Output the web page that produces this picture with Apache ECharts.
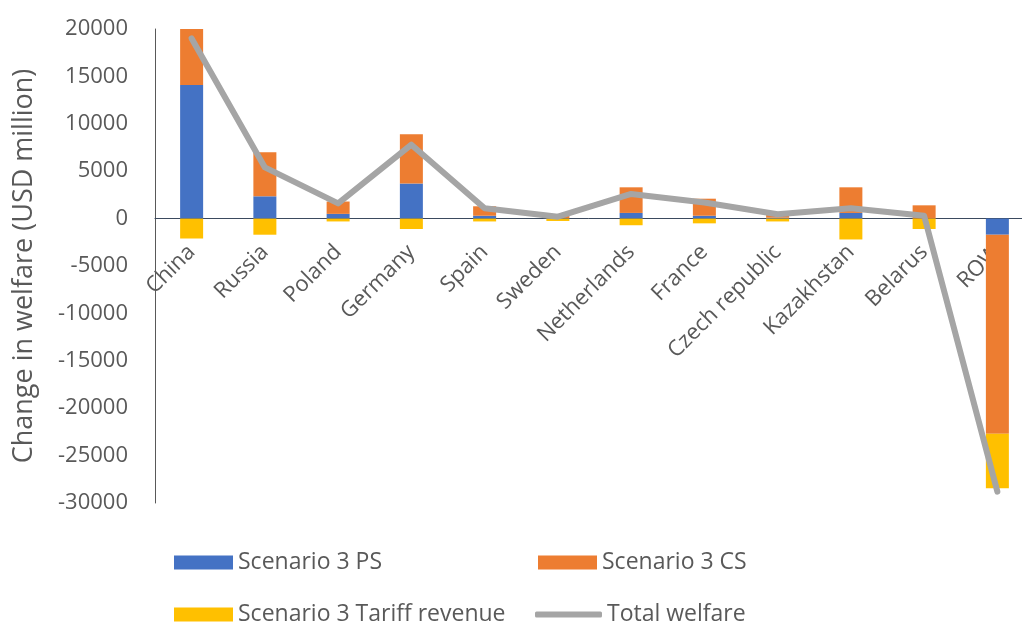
<!DOCTYPE html>
<html>
<head>
<meta charset="utf-8">
<script src="https://cdn.jsdelivr.net/npm/echarts@6/dist/echarts.min.js"></script>
<style>
  html, body { margin: 0; padding: 0; background: #fff; }
  #chart { width: 1022px; height: 624px; }
</style>
</head>
<body>
<div id="chart"></div>
<script>
// Welfare change by country, USD million
const countries = ['China', 'Russia', 'Poland', 'Germany', 'Spain', 'Sweden', 'Netherlands',
  'France', 'Czech republic', 'Kazakhstan', 'Belarus', 'ROW'];
const producerSurplus = [14100, 2350, 500, 3700, 300, 50, 600, 300, 100, 600, 0, -1700];
const consumerSurplus = [6000, 4650, 1300, 5200, 1000, 300, 2700, 1800, 300, 2700, 1400, -21000];
const tariffRevenue = [-2100, -1700, -300, -1100, -300, -250, -700, -500, -300, -2200, -1100, -5750];
const totalWelfare = [19000, 5400, 1600, 7800, 1100, 200, 2600, 1700, 450, 1100, 300, -28800];
const yTicks = { min: -30000, max: 20000, step: 5000 };

const FONT = 'Open Sans';
const TEXT = '#595959';

// plot area runs a little past the right edge of the canvas;
// the category axis sits on the zero line, so shift it up from the bottom
const GRID = { left: 155, width: 879, top: 29, bottom: 121 };
const plotH = 624 - GRID.top - GRID.bottom;
const zeroShift = plotH * (0 - yTicks.min) / (yTicks.max - yTicks.min);

const chart = echarts.init(document.getElementById('chart'));

function legendAt(name, left, top, icon, w, h) {
  return {
    data: [name], left: left, top: top, orient: 'horizontal',
    icon: icon, itemWidth: w, itemHeight: h, itemGap: 0, padding: 0,
    textStyle: { fontFamily: FONT, fontSize: 23, color: TEXT },
    selectedMode: false
  };
}

chart.setOption({
  animation: false,
  textStyle: { fontFamily: FONT },
  grid: Object.assign({ containLabel: false, outerBoundsMode: 'none' }, GRID),
  legend: [
    legendAt('Scenario 3 PS', 174, 551, 'rect', 59, 14),
    legendAt('Scenario 3 CS', 538, 551, 'rect', 59, 14),
    legendAt('Scenario 3 Tariff revenue', 174, 603, 'rect', 59, 14),
    legendAt('Total welfare', 535, 603, 'roundRect', 67, 6)
  ],
  xAxis: {
    type: 'category', data: countries,
    offset: -zeroShift,
    axisLine: { onZero: false, lineStyle: { color: '#3b4a5e', width: 1 } },
    axisTick: { show: false },
    axisLabel: { rotate: 45, interval: 0, margin: 30, color: TEXT, fontSize: 22, fontFamily: FONT },
    splitLine: { show: false }
  },
  yAxis: {
    type: 'value', min: yTicks.min, max: yTicks.max, interval: yTicks.step,
    name: 'Change in welfare (USD million)', nameLocation: 'middle', nameGap: 117,
    nameTextStyle: { color: TEXT, fontSize: 27, fontFamily: FONT },
    axisLine: { show: true, lineStyle: { color: '#595959', width: 1 } },
    axisTick: { show: false },
    axisLabel: { margin: 27, color: TEXT, fontSize: 22, fontFamily: FONT,
      formatter: function (v) { return String(v); } },
    splitLine: { show: false }
  },
  series: [
    { name: 'Scenario 3 PS', type: 'bar', stack: 'w', barWidth: 23,
      itemStyle: { color: '#4472C4' }, data: producerSurplus },
    { name: 'Scenario 3 CS', type: 'bar', stack: 'w', barWidth: 23,
      itemStyle: { color: '#ED7D31' }, data: consumerSurplus },
    { name: 'Scenario 3 Tariff revenue', type: 'bar', stack: 'w', barWidth: 23,
      itemStyle: { color: '#FFC000' }, data: tariffRevenue },
    { name: 'Total welfare', type: 'line', showSymbol: false, symbol: 'none',
      lineStyle: { color: '#A5A5A5', width: 6, join: 'round', cap: 'round' },
      itemStyle: { color: '#A5A5A5' }, z: 5, data: totalWelfare }
  ]
});
</script>
</body>
</html>
